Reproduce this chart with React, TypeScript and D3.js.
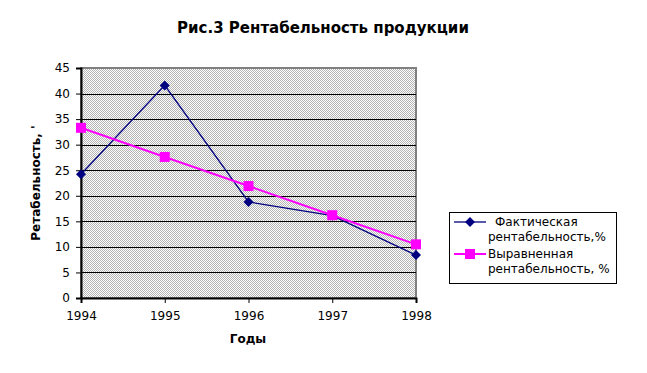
import React, { useEffect, useRef } from "react";
import * as d3 from "d3";

const years = ["1994", "1995", "1996", "1997", "1998"];
const actual = [24.2, 41.6, 18.8, 16.1, 8.4];
const aligned = [33.3, 27.6, 21.9, 16.2, 10.5];
const yTicks = [0, 5, 10, 15, 20, 25, 30, 35, 40, 45];

const App = () => {
  const svgRef = useRef<SVGSVGElement>(null);

  useEffect(() => {
    const svg = d3.select(svgRef.current);
    svg.selectAll("*").remove();

    const left = 81;
    const right = 416;
    const top = 68;
    const bottom = 298;
    const font = "DejaVu Sans";

    const x = d3.scalePoint<string>().domain(years).range([left, right]);
    const y = d3.scaleLinear().domain([0, 45]).range([bottom, top]);

    // gray dotted background
    const pat = svg
      .append("defs")
      .append("pattern")
      .attr("id", "dots")
      .attr("x", 0)
      .attr("y", 0)
      .attr("width", 2)
      .attr("height", 2)
      .attr("patternUnits", "userSpaceOnUse");
    pat.append("rect").attr("width", 2).attr("height", 2).attr("fill", "#ffffff");
    pat.append("rect").attr("width", 1).attr("height", 1).attr("fill", "#b4b4b4");
    pat.append("rect").attr("x", 1).attr("y", 1).attr("width", 1).attr("height", 1).attr("fill", "#b4b4b4");

    svg
      .append("rect")
      .attr("x", left)
      .attr("y", top)
      .attr("width", right - left)
      .attr("height", bottom - top)
      .attr("fill", "url(#dots)")
      .attr("stroke", "#808080")
      .attr("stroke-width", 2);

    // grid lines
    svg
      .append("g")
      .selectAll("line")
      .data(yTicks.filter((d) => d > 0 && d < 45))
      .join("line")
      .attr("x1", left)
      .attr("x2", right)
      .attr("y1", (d) => Math.round(y(d)) + 0.5)
      .attr("y2", (d) => Math.round(y(d)) + 0.5)
      .attr("stroke", "#000")
      .attr("stroke-width", 1);

    // axes
    const yAxis = svg
      .append("g")
      .attr("transform", `translate(${left},0)`)
      .call(d3.axisLeft(y).tickValues(yTicks).tickSize(5).tickPadding(6));
    const xAxis = svg
      .append("g")
      .attr("transform", `translate(0,${bottom})`)
      .call(d3.axisBottom(x).tickSize(5).tickPadding(8));
    [yAxis, xAxis].forEach((g) => {
      g.select(".domain").attr("stroke", "#000").attr("stroke-width", 2);
      g.selectAll(".tick line").attr("stroke", "#000");
      g.selectAll("text")
        .attr("font-family", font)
        .attr("font-size", 12)
        .attr("fill", "#000");
    });

    // lines
    const line = d3
      .line<number>()
      .x((_, i) => x(years[i]) as number)
      .y((d) => y(d));

    svg
      .append("path")
      .datum(actual)
      .attr("d", line)
      .attr("fill", "none")
      .attr("stroke", "#000080")
      .attr("stroke-width", 1.3);

    svg
      .append("path")
      .datum(aligned)
      .attr("d", line)
      .attr("fill", "none")
      .attr("stroke", "#ff00ff")
      .attr("stroke-width", 2);

    // square diamond, as wide as tall
    const diamond = "M0,-5L5,0L0,5L-5,0Z";

    svg
      .append("g")
      .selectAll("path")
      .data(actual)
      .join("path")
      .attr("d", diamond)
      .attr("transform", (d, i) => `translate(${x(years[i])},${y(d)})`)
      .attr("fill", "#000080");

    svg
      .append("g")
      .selectAll("rect")
      .data(aligned)
      .join("rect")
      .attr("x", (_, i) => (x(years[i]) as number) - 5)
      .attr("y", (d) => y(d) - 5)
      .attr("width", 10)
      .attr("height", 10)
      .attr("fill", "#ff00ff");

    // title
    svg
      .append("text")
      .attr("x", 323)
      .attr("y", 33)
      .attr("text-anchor", "middle")
      .attr("font-family", font)
      .attr("font-weight", "bold")
      .attr("font-size", 15)
      .text("Рис.3 Рентабельность продукции");

    svg
      .append("text")
      .attr("transform", `translate(40,183) rotate(-90)`)
      .attr("text-anchor", "middle")
      .attr("font-family", font)
      .attr("font-weight", "bold")
      .attr("font-size", 12)
      .text("Ретабельность, '");

    svg
      .append("text")
      .attr("x", 248)
      .attr("y", 343)
      .attr("text-anchor", "middle")
      .attr("font-family", font)
      .attr("font-weight", "bold")
      .attr("font-size", 12)
      .text("Годы");

    // legend
    const lg = svg.append("g").attr("transform", "translate(449,212)");
    lg.append("rect")
      .attr("x", 0.5)
      .attr("y", 0.5)
      .attr("width", 167)
      .attr("height", 71)
      .attr("fill", "#fff")
      .attr("stroke", "#000");

    const items = [
      { color: "#000080", lines: ["Фактическая", "рентабельность,%"], diamond: true, w: 1.3 },
      { color: "#ff00ff", lines: ["Выравненная", "рентабельность, %"], diamond: false, w: 2 },
    ];
    items.forEach((it, k) => {
      const cy = 10 + k * 32;
      lg.append("line")
        .attr("x1", 5)
        .attr("x2", 37)
        .attr("y1", cy)
        .attr("y2", cy)
        .attr("stroke", it.color)
        .attr("stroke-width", it.w);
      if (it.diamond) {
        lg.append("path")
          .attr("d", diamond)
          .attr("transform", `translate(21,${cy})`)
          .attr("fill", it.color);
      } else {
        lg.append("rect")
          .attr("x", 16)
          .attr("y", cy - 5)
          .attr("width", 10)
          .attr("height", 10)
          .attr("fill", it.color);
      }
      it.lines.forEach((t, j) => {
        lg.append("text")
          .attr("x", k === 0 && j === 0 ? 46 : 39)
          .attr("y", cy + 4 + j * 15)
          .attr("font-family", font)
          .attr("font-size", 12)
          .text(t);
      });
    });
  }, []);

  return (
    <svg
      ref={svgRef}
      width={647}
      height={373}
      style={{ position: "absolute", left: 0, top: 0, background: "#fff" }}
    />
  );
};

export default App;
